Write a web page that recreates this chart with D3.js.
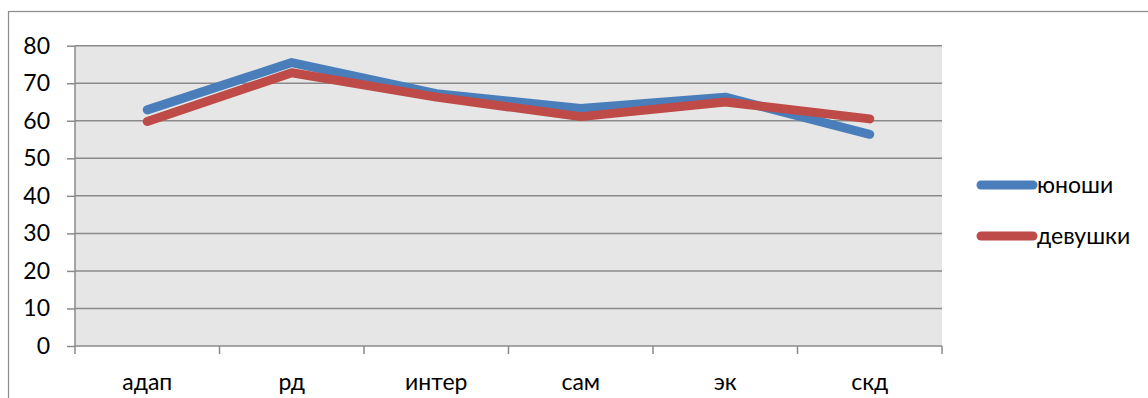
<!DOCTYPE html>
<html><head><meta charset="utf-8">
<script src="https://cdn.jsdelivr.net/npm/d3@7"></script>
<style>body{margin:0;background:#fff;}svg{display:block;font-family:Lato,"Open Sans",sans-serif;}</style>
</head><body>
<svg id="c" width="1148" height="398"></svg>
<script>
const categories = ["адап","рд","интер","сам","эк","скд"];
const boys = [62.9, 75.5, 67.2, 63.3, 66.3, 56.4];
const girls = [59.8, 72.8, 66.3, 61.1, 65, 60.5];
const seriesNames = ["юноши","девушки"];
const yTicks = [0,10,20,30,40,50,60,70,80];
const colors = ["#4a7ebb","#be4b48"];

const svg = d3.select("#c");
const L = 75, R = 942, T = 45.7, B = 346;
svg.append("rect").attr("x",8.5).attr("y",11.5).attr("width",1150).attr("height",400)
  .attr("fill","#fff").attr("stroke","#8c8c8c").attr("stroke-width",1.2);

const x = d3.scaleBand().domain(categories).range([L,R]);
const y = d3.scaleLinear().domain([0,80]).range([B,T]);

svg.append("rect").attr("x",L).attr("y",T).attr("width",R-L).attr("height",B-T).attr("fill","#e6e6e6");

const grid = svg.append("g");
grid.selectAll("line").data(yTicks.filter(d=>d>0)).join("line")
  .attr("x1",L).attr("x2",R).attr("y1",d=>y(d)).attr("y2",d=>y(d))
  .attr("stroke","#8a8a8a").attr("stroke-width",1.5);

const yAxis = svg.append("g").attr("transform",`translate(${L},0)`)
  .call(d3.axisLeft(y).tickValues(yTicks).tickSize(8).tickPadding(17));
yAxis.select(".domain").attr("stroke","#8a8a8a").attr("stroke-width",1.5).attr("d",`M0,${T}V${B}`);
yAxis.selectAll(".tick line").attr("stroke","#8a8a8a").attr("stroke-width",1.5);
yAxis.selectAll("text").attr("font-size",23).attr("fill","#000").attr("font-family","Lato");

// x axis
const xAxis = svg.append("g").attr("transform",`translate(0,${B})`);
xAxis.append("line").attr("x1",L).attr("x2",R).attr("stroke","#8a8a8a").attr("stroke-width",1.5);
const bounds = categories.map(c=>x(c)).concat([R]);
xAxis.selectAll(".t").data(bounds).join("line").attr("class","t")
  .attr("x1",d=>d).attr("x2",d=>d).attr("y1",0).attr("y2",8)
  .attr("stroke","#8a8a8a").attr("stroke-width",1.5);
xAxis.selectAll("text").data(categories).join("text")
  .attr("x",d=>x(d)+x.bandwidth()/2).attr("y",44).attr("text-anchor","middle")
  .attr("font-size",23).attr("fill","#000").text(d=>d);

const line = d3.line().x((d,i)=>x(categories[i])+x.bandwidth()/2).y(d=>y(d));
[boys, girls].forEach((s,i)=>{
  svg.append("path").attr("d",line(s)).attr("fill","none").attr("stroke",colors[i])
    .attr("stroke-width",9).attr("stroke-linecap","round").attr("stroke-linejoin","round");
});

// legend
const leg = svg.append("g");
seriesNames.forEach((n,i)=>{
  const ly = 185 + i*51;
  leg.append("line").attr("x1",981).attr("x2",1033).attr("y1",ly).attr("y2",ly)
    .attr("stroke",colors[i]).attr("stroke-width",9).attr("stroke-linecap","round");
  leg.append("text").attr("x",1037).attr("y",ly+8).attr("font-size",23).attr("fill","#000").text(n);
});
</script>
</body></html>
